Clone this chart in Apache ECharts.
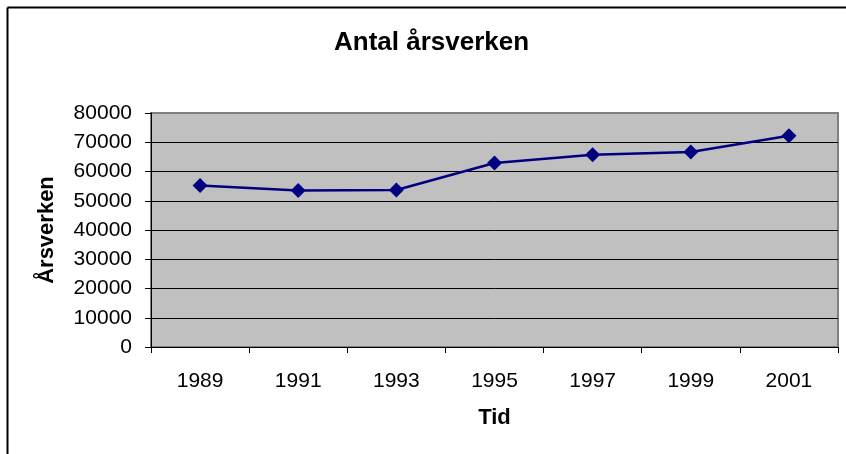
<!DOCTYPE html>
<html>
<head>
<meta charset="utf-8">
<script src="https://cdn.jsdelivr.net/npm/echarts@6/dist/echarts.min.js"></script>
<style>
html,body{margin:0;padding:0;background:#fff;}
#chart{width:846px;height:454px;}
</style>
</head>
<body>
<div id="chart"></div>
<script>
var categories = ['1989', '1991', '1993', '1995', '1997', '1999', '2001'];
var arsverken = [55200, 53500, 53700, 62900, 65700, 66700, 72200];
var yTicks = [0, 10000, 20000, 30000, 40000, 50000, 60000, 70000, 80000];

var FONT = "'Liberation Sans', Arial, sans-serif";
var chart = echarts.init(document.getElementById('chart'), null, {renderer: 'canvas'});
var gridColors = yTicks.map(function (v, i) { return i === yTicks.length - 1 ? 'rgba(0,0,0,0)' : '#000000'; });

chart.setOption({
  backgroundColor: '#ffffff',
  animation: false,
  title: {
    text: 'Antal årsverken',
    left: 334,
    top: 30,
    padding: 0,
    textStyle: {fontFamily: FONT, fontSize: 26, fontWeight: 'bold', color: '#000'}
  },
  graphic: [
    {type: 'line', shape: {x1: 7.5, y1: 7.5, x2: 846, y2: 7.5}, style: {stroke: '#000', lineWidth: 2}, z: 100},
    {type: 'line', shape: {x1: 7.5, y1: 7.5, x2: 7.5, y2: 454}, style: {stroke: '#000', lineWidth: 2}, z: 100}
  ],
  grid: {
    left: 151, right: 8, top: 113, bottom: 107,
    show: true,
    backgroundColor: '#C0C0C0',
    borderColor: '#808080',
    borderWidth: 2,
    containLabel: false
  },
  xAxis: {
    type: 'category',
    data: categories,
    boundaryGap: true,
    name: 'Tid',
    nameLocation: 'middle',
    nameGap: 60,
    nameTextStyle: {fontFamily: FONT, fontSize: 22, fontWeight: 'bold', color: '#000'},
    axisLine: {show: true, lineStyle: {color: '#000', width: 1}},
    axisTick: {show: true, alignWithLabel: false, length: 6, lineStyle: {color: '#000'}},
    axisLabel: {fontFamily: FONT, fontSize: 21, color: '#000', margin: 24, interval: 0},
    splitLine: {show: false}
  },
  yAxis: {
    type: 'value',
    min: 0, max: 80000, interval: 10000,
    name: 'Årsverken',
    nameLocation: 'middle',
    nameGap: 93,
    nameTextStyle: {fontFamily: FONT, fontSize: 22, fontWeight: 'bold', color: '#000'},
    axisLine: {show: true, lineStyle: {color: '#000', width: 1}},
    axisTick: {show: true, length: 6, lineStyle: {color: '#000'}},
    axisLabel: {fontFamily: FONT, fontSize: 21, color: '#000', margin: 19,
      formatter: function (v) { return String(v); }},
    splitLine: {show: true, lineStyle: {color: gridColors, width: 1}}
  },
  series: [{
    type: 'line',
    data: arsverken,
    symbol: 'diamond',
    symbolSize: 15,
    lineStyle: {color: '#000080', width: 2.5},
    itemStyle: {color: '#000080'},
    z: 5
  }]
});
</script>
</body>
</html>
